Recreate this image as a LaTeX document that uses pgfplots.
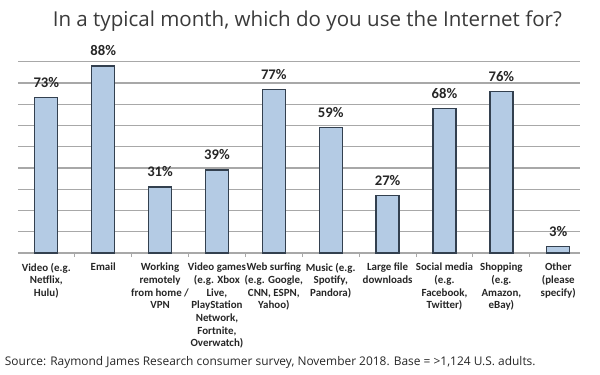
\documentclass[border=0pt]{standalone}
\usepackage{pgfplots}
\pgfplotsset{compat=1.18}
\usepackage{fontspec}
\setmainfont{Open Sans}
\newfontfamily\carlito{Carlito}
\definecolor{barblue}{HTML}{B4CBE4}
\definecolor{bardark}{HTML}{33404F}
\definecolor{gridgray}{HTML}{A8A8A8}
\definecolor{titlegray}{HTML}{3A3A3A}
\begin{document}
\begin{tikzpicture}
\path[use as bounding box] (0pt,0pt) rectangle (450pt,281.25pt);
\begin{axis}[
  at={(13.4pt,91.5pt)}, anchor=south west,
  scale only axis,
  width=421.5pt, height=143.5pt,
  ybar, bar width=17.25pt,
  xmin=-0.5, xmax=9.38,
  ymin=0, ymax=90,
  ytick={0,10,...,90}, yticklabels={},
  ymajorgrids,
  grid style={gridgray, line width=1pt},
  axis line style={draw=none},
  major tick length=0pt,
  xtick={0,...,9},
  minor xtick={0.5,1.5,...,8.5},
  minor tick length=3pt,
  tick align=outside,
  xtick pos=left,
  minor tick style={gridgray, line width=0.8pt},
  /pgf/number format/assume math mode=true,
  xticklabels={
    {Video (e.g.\\Netflix,\\Hulu)},
    {Email},
    {Working\\remotely\\from home /\\VPN},
    {Video games\\(e.g. Xbox\\Live,\\PlayStation\\Network,\\Fortnite,\\Overwatch)},
    {Web surfing\\(e.g. Google,\\CNN, ESPN,\\Yahoo)},
    {Music (e.g.\\Spotify,\\Pandora)},
    {Large file\\downloads},
    {Social media\\(e.g.\\Facebook,\\Twitter)},
    {Shopping\\(e.g.\\Amazon,\\eBay)},
    {Other\\(please\\specify)}},
  xticklabel style={font=\carlito\bfseries\fontsize{8.2}{9.5}\selectfont, align=center, anchor=north, yshift=-4pt, text=black!85},
  nodes near coords={\pgfmathprintnumber{\pgfplotspointmeta}\%},
  every node near coord/.append style={font=\carlito\bfseries\fontsize{11}{12}\selectfont, inner sep=0pt, anchor=south, yshift=7pt, text=black!85},
  clip=false,
]
\addplot[fill=barblue, draw=bardark, line width=1pt] coordinates {
  (0,73) (1,88) (2,31) (3,39) (4,77) (5,59) (6,27) (7,68) (8,76) (9,3)
};
\end{axis}
\node[anchor=base, font=\fontsize{15.4}{18}\selectfont, text=titlegray] at (230.5pt,261pt) {In a typical month, which do you use the Internet for?};
\node[anchor=base west, inner sep=0pt, font=\fontsize{8.95}{11}\selectfont, text=black!85] at (3.5pt,6.75pt) {Source: Raymond James Research consumer survey, November 2018. Base = >1,124 U.S. adults.};
\end{tikzpicture}
\end{document}
